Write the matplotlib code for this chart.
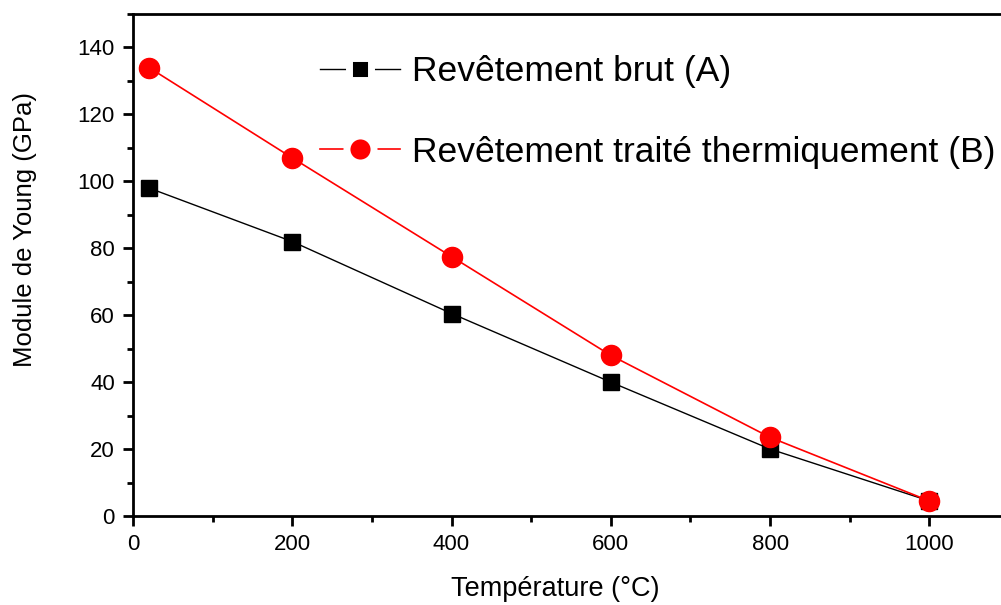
import matplotlib
matplotlib.use("Agg")
import matplotlib.pyplot as plt
from matplotlib.lines import Line2D
from matplotlib.ticker import MultipleLocator

plt.rcParams['font.family'] = ['Liberation Sans', 'DejaVu Sans']

temperature = [20, 200, 400, 600, 800, 1000]
brut_A = [98, 82, 60.5, 40, 20, 4.5]
traite_B = [134, 107, 77.5, 48, 23.5, 4.5]
labels = ["Revêtement brut (A)", "Revêtement traité thermiquement (B)"]

fig = plt.figure(figsize=(10.01, 6.05), dpi=100)
ax = fig.add_axes([0.1329, 0.1471, 0.8671, 0.8298])

ax.plot(temperature, brut_A, color='black', lw=1, marker='s', ms=12,
        mfc='black', mec='black', zorder=3)
ax.plot(temperature, traite_B, color='red', lw=1.2, marker='o', ms=14.5,
        mfc='red', mec='red', zorder=4)

ax.set_xlim(0, 1090)
ax.set_ylim(0, 150)
ax.xaxis.set_major_locator(MultipleLocator(200))
ax.xaxis.set_minor_locator(MultipleLocator(100))
ax.yaxis.set_major_locator(MultipleLocator(20))
ax.yaxis.set_minor_locator(MultipleLocator(10))
ax.tick_params(which='major', direction='out', length=7, width=2, labelsize=16, pad=6)
ax.tick_params(which='minor', direction='out', length=4, width=2)
ax.tick_params(axis='x', top=False)
for s in ['left', 'bottom', 'top']:
    ax.spines[s].set_linewidth(2)
ax.spines['right'].set_visible(False)

ax.set_xlabel("Température (°C)", fontsize=19.5, labelpad=15, x=0.486)
ax.set_ylabel("Module de Young (GPa)", fontsize=18.5, labelpad=29, y=0.57)

handles = [
    Line2D([], [], color='black', lw=1, marker='s', ms=16.5, mfc='black',
           mec='white', mew=5),
    Line2D([], [], color='red', lw=1.2, marker='o', ms=19.5, mfc='red',
           mec='white', mew=5),
]
leg = ax.legend(handles, labels, loc='upper left', bbox_to_anchor=(0.2155, 0.918),
                frameon=False, fontsize=25.5, numpoints=1, handlelength=2.26,
                handletextpad=0.34, labelspacing=1.34, borderaxespad=0,
                borderpad=0)

fig.savefig("out.png", dpi=100)
